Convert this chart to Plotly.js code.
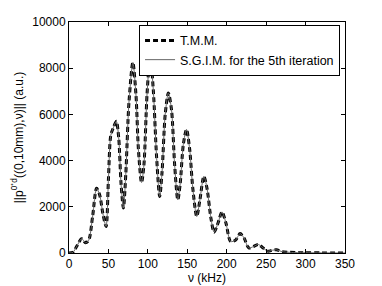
<!DOCTYPE html>
<html>
<head>
<meta charset="utf-8">
<script src="https://cdn.plot.ly/plotly-3.0.1.min.js"></script>
<style>html,body{margin:0;padding:0;background:#fff;}#chart{width:382px;height:286px;}</style>
</head>
<body>
<div id="chart"></div>
<script>
const freqKHz = [0,5,10,16,21,25,30,35,39,43,47,50,53,56,60,63,66,69,72,76,81,85,88,92,95,99,103,107,111,115,118,122,126,130,134,138,141,145,149,153,157,162,166,171,175,180,184,189,194,199,205,211,217,222,228,234,240,245,252,258,263,270,280,290,300,320,350];
const tmmValues = [0,30,300,620,440,550,1600,2800,2500,1700,1150,3200,5100,5400,5700,5000,3000,1950,3400,6500,8250,6800,4500,3050,3800,6900,8550,7000,4200,2450,3500,6000,6930,6200,3800,2300,3000,4700,5350,4500,2800,1580,2300,3320,2800,1500,900,1300,1780,1300,500,550,840,650,220,280,370,250,80,120,140,60,30,15,10,5,0];
const sgimValues = tmmValues.slice();
const seriesNames = ["T.M.M.", "S.G.I.M. for the 5th iteration"];
const xTicks = [0,50,100,150,200,250,300,350];
const yTicks = [0,2000,4000,6000,8000,10000];

const font = {family: "Liberation Sans, Arial, sans-serif", size: 12, color: "#000"};
const legendFont = {family: "Liberation Sans, Arial, sans-serif", size: 12.5, color: "#000"};

const traces = [
  {x: freqKHz, y: tmmValues, name: seriesNames[0], mode: "lines", type: "scatter",
   line: {color: "#000", width: 3, dash: "5px,3px", shape: "spline", smoothing: 0.8}},
  {x: freqKHz, y: sgimValues, name: seriesNames[1], mode: "lines", type: "scatter",
   line: {color: "#666", width: 1, shape: "spline", smoothing: 0.8}}
];

const axisCommon = {showgrid: false, zeroline: false, showline: true, linecolor: "#000", linewidth: 1,
  mirror: "ticks", ticks: "inside", ticklen: 4, tickcolor: "#000", tickfont: font, automargin: false};

const layout = {
  width: 382, height: 286,
  margin: {l: 69, r: 37, t: 22, b: 33},
  paper_bgcolor: "#fff", plot_bgcolor: "#fff",
  font: font,
  showlegend: true,
  legend: {x: 0.982, y: 0.988, xanchor: "right", yanchor: "top", bgcolor: "#fff",
    bordercolor: "#000", borderwidth: 1, font: legendFont, tracegroupgap: 0},
  xaxis: Object.assign({}, axisCommon, {range: [0, 350], tickvals: xTicks, ticktext: xTicks.map(String),
    title: {text: "ν (kHz)", font: font, standoff: 2}}),
  yaxis: Object.assign({}, axisCommon, {range: [0, 10000], tickvals: yTicks, ticktext: yTicks.map(String),
    title: {text: "||p<sup>0⁺d</sup>((0,10mm),ν)|| (a.u.)", font: font, standoff: 6}})
};

Plotly.newPlot("chart", traces, layout, {displayModeBar: false, staticPlot: true});
</script>
</body>
</html>
